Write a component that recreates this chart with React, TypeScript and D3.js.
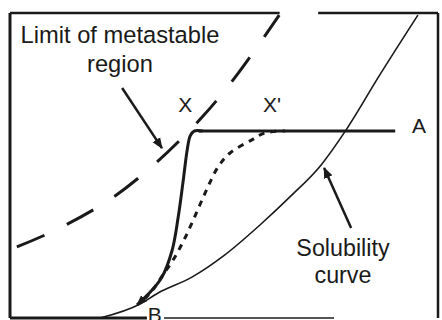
import React from "react";
import * as d3 from "d3";

// Schematic data in chart units (x: 0–100 temperature-like, y: 0–100 concentration-like)
const solubilityX = [21.0, 30.4, 34.6, 42.5, 50.2, 58.4, 65.4, 72.7, 78.5, 86.4, 95.3];
const solubilityY = [0, 4.6, 8.2, 13.4, 20.7, 30.5, 39.7, 50.2, 61.6, 79.7, 99.3];

const metastableX = [1.6, 11.2, 23.8, 34.3, 44.9, 52.8, 62.9];
const metastableY = [23.3, 29.2, 39.3, 51.1, 65.9, 79.3, 99.3];

// rapid path B -> X (solid), then plateau X -> A
const pathXX = [29.7, 33.2, 35.5, 37.9, 39.3, 40.4, 41.4, 42.1, 43.0, 45.0];
const pathXY = [4.3, 9.2, 13.4, 22.3, 33.1, 44.3, 55.1, 59.7, 61.3, 61.3];
const plateauX = [44.0, 90.0];
const plateauY = [61.3, 61.3];

// slow path B -> X' (dashed)
const pathX2X = [31.5, 33.9, 35.7, 38.1, 40.4, 42.5, 45.6, 48.6, 51.4, 56.5, 59.6, 64.3];
const pathX2Y = [6.2, 10.2, 14.1, 19.0, 24.9, 31.1, 41.0, 49.5, 54.1, 58.4, 60.7, 61.3];

const labelTexts = ["Limit of metastable", "region", "X", "X'", "A", "B", "Solubility", "curve"];
const labelX = [25.7, 25.7, 39.3, 59.1, 93.9, 32.2, 77.8, 77.8];
const labelY = [90.2, 80.7, 67.5, 67.5, 60.7, -1.3, 20.3, 11.5];

const arrowFromX = [26.2, 79.7];
const arrowFromY = [75.4, 29.5];
const arrowToX = [35.5, 73.4];
const arrowToY = [55.7, 49.2];

export default function App() {
  const W = 442;
  const H = 320;
  const x = d3.scaleLinear().domain([0, 100]).range([10, 438]);
  const y = d3.scaleLinear().domain([0, 100]).range([318, 13]);

  const mk = (xs: number[], ys: number[], curve: d3.CurveFactory) =>
    d3
      .line<number>()
      .x((_, i) => x(xs[i]))
      .y((_, i) => y(ys[i]))
      .curve(curve)(xs.map((_, i) => i)) || "";

  const ink = "#1a1a1a";
  const font = "'Liberation Sans', Arial, Helvetica, sans-serif";
  const anchors = ["middle", "middle", "start", "start", "start", "start", "middle", "middle"];
  const sizes = [23.7, 23.7, 21, 21, 21, 21, 23.3, 23.3];

  return (
    <svg
      width={W}
      height={H}
      style={{ position: "absolute", left: 0, top: 0, background: "#fff" }}
    >
      <defs>
        <marker
          id="ah"
          viewBox="0 0 10 10"
          refX="9"
          refY="5"
          markerWidth="4.5"
          markerHeight="4.5"
          markerUnits="strokeWidth"
          orient="auto"
        >
          <path d="M0,1 L10,5 L0,9 Z" fill={ink} />
        </marker>
        <marker
          id="ahB"
          viewBox="0 0 10 10"
          refX="9"
          refY="5"
          markerWidth="3.5"
          markerHeight="3.5"
          markerUnits="strokeWidth"
          orient="auto-start-reverse"
        >
          <path d="M0,1 L10,5 L0,9 Z" fill={ink} />
        </marker>
      </defs>
      <rect width={W} height={H} fill="#fff" />

      {/* frame */}
      <line x1={x(0)} y1={y(100)} x2={x(0)} y2={y(0)} stroke={ink} strokeWidth={3} />
      <line x1={x(0)} y1={y(100)} x2={x(63)} y2={y(100)} stroke={ink} strokeWidth={2.5} />
      <line x1={x(72)} y1={y(100)} x2={x(100)} y2={y(100)} stroke={ink} strokeWidth={2.5} />
      <line x1={x(100)} y1={y(100)} x2={x(100)} y2={y(0)} stroke={ink} strokeWidth={2.5} />
      <line x1={x(0)} y1={y(0)} x2={x(32)} y2={y(0)} stroke={ink} strokeWidth={3} />
      <line x1={x(36)} y1={y(0)} x2={x(75.7)} y2={y(0)} stroke="#555" strokeWidth={2} />

      {/* solubility curve */}
      <path
        d={mk(solubilityX, solubilityY, d3.curveMonotoneX)}
        fill="none"
        stroke={ink}
        strokeWidth={1.6}
      />

      {/* limit of metastable region */}
      <path
        d={mk(metastableX, metastableY, d3.curveCatmullRom.alpha(0.5))}
        fill="none"
        stroke={ink}
        strokeWidth={3}
        strokeDasharray="30 25"
      />

      {/* path B -> X */}
      <path
        d={mk(pathXX, pathXY, d3.curveCatmullRom.alpha(0.5))}
        fill="none"
        stroke={ink}
        strokeWidth={3}
        strokeLinejoin="round"
        markerStart="url(#ahB)"
      />
      {/* plateau X -> A */}
      <path
        d={mk(plateauX, plateauY, d3.curveLinear)}
        fill="none"
        stroke={ink}
        strokeWidth={3}
      />

      {/* path B -> X' */}
      <path
        d={mk(pathX2X, pathX2Y, d3.curveCatmullRom.alpha(0.5))}
        fill="none"
        stroke={ink}
        strokeWidth={3}
        strokeDasharray="6 6"
      />

      {/* arrows */}
      {arrowFromX.map((_, i) => (
        <line
          key={"a" + i}
          x1={x(arrowFromX[i])}
          y1={y(arrowFromY[i])}
          x2={x(arrowToX[i])}
          y2={y(arrowToY[i])}
          stroke={ink}
          strokeWidth={2.5}
          markerEnd="url(#ah)"
        />
      ))}

      {/* labels */}
      {labelTexts.map((t, i) => (
        <text
          key={"t" + i}
          x={x(labelX[i])}
          y={y(labelY[i])}
          textAnchor={anchors[i]}
          fontFamily={font}
          fontSize={sizes[i]}
          fill={ink}
        >
          {t}
        </text>
      ))}
    </svg>
  );
}
